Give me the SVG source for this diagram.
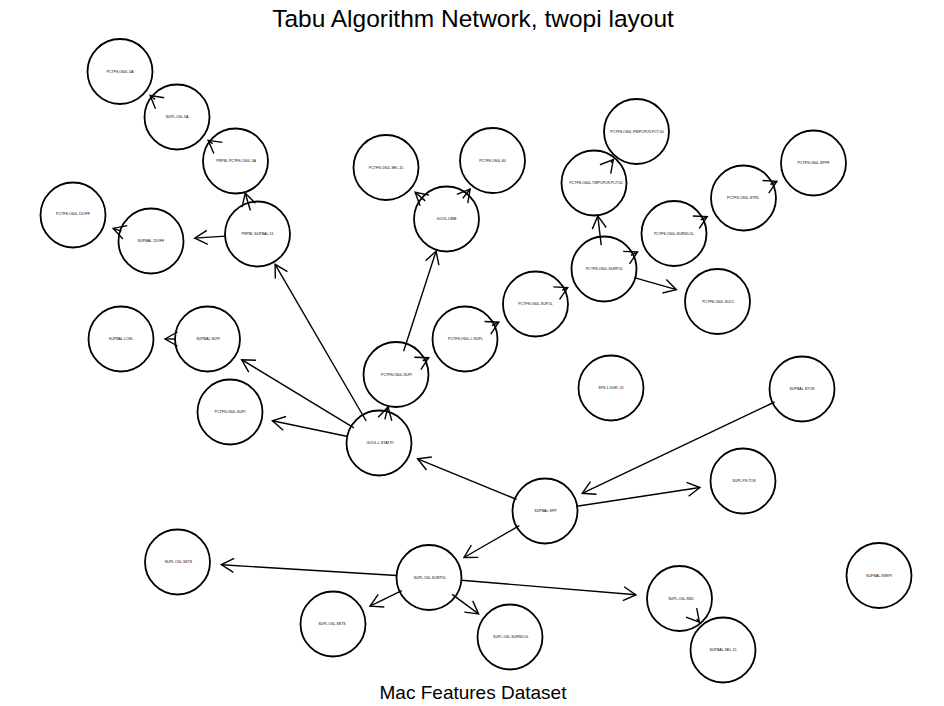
<svg xmlns="http://www.w3.org/2000/svg" width="944" height="706" viewBox="0 0 944 706">
<style>
.n circle{fill:none;stroke:#000;stroke-width:1.8}
.n text{font-family:"Liberation Sans",Arial,sans-serif;font-size:3.6px;fill:#000;text-anchor:middle;dominant-baseline:central}
.e line{stroke:#000;stroke-width:1.4;marker-end:url(#ah)}
.t{font-family:"Liberation Sans",Arial,sans-serif;fill:#000;text-anchor:middle}
</style>
<defs>
<marker id="ah" markerUnits="userSpaceOnUse" markerWidth="18" markerHeight="18" viewBox="0 0 18 18" refX="15" refY="9" orient="auto" overflow="visible">
<path d="M2.5,2 L15,9 L2.5,16" fill="none" stroke="#000" stroke-width="1.4"/>
</marker>
</defs>
<rect width="944" height="706" fill="#fff"/>
<text class="t" x="473" y="27" font-size="24.5">Tabu Algorithm Network, twopi layout</text>
<text class="t" x="473" y="699" font-size="19">Mac Features Dataset</text>
<g id="edges" class="e">
<line x1="155.0" y1="99.4" x2="150.1" y2="95.5"/>
<line x1="212.6" y1="143.8" x2="208.1" y2="140.4"/>
<line x1="250.4" y1="210.5" x2="245.2" y2="193.2"/>
<line x1="225.2" y1="236.1" x2="194.8" y2="238.1"/>
<line x1="121.4" y1="231.1" x2="113.2" y2="228.4"/>
<line x1="366.2" y1="421.0" x2="275.1" y2="264.3"/>
<line x1="353.9" y1="427.8" x2="241.7" y2="359.7"/>
<line x1="347.7" y1="436.5" x2="272.4" y2="420.8"/>
<line x1="384.9" y1="419.4" x2="388.0" y2="406.9"/>
<line x1="403.6" y1="351.2" x2="436.1" y2="251.1"/>
<line x1="425.2" y1="200.9" x2="415.1" y2="192.3"/>
<line x1="462.8" y1="198.2" x2="470.1" y2="189.0"/>
<line x1="422.7" y1="360.8" x2="428.7" y2="357.7"/>
<line x1="492.0" y1="325.6" x2="498.8" y2="322.2"/>
<line x1="562.2" y1="290.3" x2="567.7" y2="287.6"/>
<line x1="601.2" y1="245.1" x2="597.8" y2="215.9"/>
<line x1="610.9" y1="162.5" x2="613.3" y2="159.6"/>
<line x1="630.8" y1="255.4" x2="637.5" y2="252.0"/>
<line x1="700.7" y1="219.9" x2="707.2" y2="216.6"/>
<line x1="770.4" y1="184.5" x2="776.9" y2="181.3"/>
<line x1="634.3" y1="277.7" x2="676.4" y2="289.7"/>
<line x1="774.6" y1="402.0" x2="582.2" y2="493.3"/>
<line x1="576.8" y1="506.2" x2="699.9" y2="487.5"/>
<line x1="516.6" y1="499.4" x2="417.6" y2="458.8"/>
<line x1="519.3" y1="525.7" x2="464.0" y2="557.5"/>
<line x1="396.7" y1="575.5" x2="221.3" y2="564.7"/>
<line x1="401.8" y1="590.7" x2="370.0" y2="606.1"/>
<line x1="452.1" y1="594.4" x2="478.6" y2="613.9"/>
<line x1="461.2" y1="580.2" x2="635.9" y2="594.8"/>
<line x1="696.7" y1="618.9" x2="699.4" y2="622.1"/>
<line x1="175.0" y1="339.0" x2="165.0" y2="339.0"/>
</g>
<g id="nA" class="n"><circle cx="120" cy="71.5" r="32.5"/><text x="120" y="71.5">PCTFS.O60L.5A</text></g>
<g id="nB" class="n"><circle cx="177" cy="117" r="32.5"/><text x="177" y="117">SUPL.O6L.5A</text></g>
<g id="nC" class="n"><circle cx="235.5" cy="161" r="32.5"/><text x="236" y="161">PRPBL.PCTFS.O60L.5A</text></g>
<g id="nD" class="n"><circle cx="73" cy="215" r="32.5"/><text x="73" y="214">PCTFS.O60L.15OFF</text></g>
<g id="nE" class="n"><circle cx="151" cy="241" r="32.5"/><text x="151" y="241">SUPBAL.15OFF</text></g>
<g id="nF" class="n"><circle cx="257.5" cy="234" r="32.5"/><text x="257.5" y="234">PRPBL.SUPBAL.51</text></g>
<g id="nG" class="n"><circle cx="386" cy="167.5" r="32.5"/><text x="386" y="168">PCTFS.O60L.SEL.15</text></g>
<g id="nH" class="n"><circle cx="492.5" cy="160.5" r="32.5"/><text x="492.5" y="161">PCTFS.O60L.60</text></g>
<g id="nI" class="n"><circle cx="446.5" cy="219" r="32.5"/><text x="446.5" y="219">GOOL.LIMB</text></g>
<g id="nJ" class="n"><circle cx="636.5" cy="131.5" r="32.5"/><text x="637" y="131.5">PCTFS.O60L.PWPOPLR.PCT.50</text></g>
<g id="nK" class="n"><circle cx="594" cy="183" r="32.5"/><text x="596" y="183">PCTFS.O60L.TWPOPLR.PCT.50</text></g>
<g id="nL" class="n"><circle cx="813.5" cy="163" r="32.5"/><text x="813.5" y="163">PCTFS.O60L.SPPF</text></g>
<g id="nM" class="n"><circle cx="743.5" cy="198" r="32.5"/><text x="743" y="198">PCTFS.O60L.STR5</text></g>
<g id="nN" class="n"><circle cx="674" cy="233.5" r="32.5"/><text x="674" y="233.5">PCTFS.O60L.SURSD.5L</text></g>
<g id="nO" class="n"><circle cx="604" cy="269" r="32.5"/><text x="604.5" y="269">PCTFS.O60L.SURP.5L</text></g>
<g id="nP" class="n"><circle cx="535.5" cy="304" r="32.5"/><text x="535.5" y="304">PCTFS.O60L.SUP.5L</text></g>
<g id="nQ" class="n"><circle cx="717.5" cy="301.5" r="32.5"/><text x="718" y="302">PCTFS.O60L.SUI.5</text></g>
<g id="nR" class="n"><circle cx="121" cy="339" r="32.5"/><text x="121" y="339">SUPBAL.LOSL</text></g>
<g id="nS" class="n"><circle cx="207.5" cy="339" r="32.5"/><text x="208" y="339">SUPBAL.SUPI</text></g>
<g id="nT" class="n"><circle cx="230" cy="412" r="32.5"/><text x="230" y="412">PCTFS.O60L.SUPI</text></g>
<g id="nU" class="n"><circle cx="396" cy="374.5" r="32.5"/><text x="396.5" y="374.5">PCTFS.O60L.SUPI</text></g>
<g id="nV" class="n"><circle cx="465" cy="339" r="32.5"/><text x="465.5" y="339">PCTFS.O60L.L.SUPL</text></g>
<g id="nW" class="n"><circle cx="379" cy="443" r="32.5"/><text x="380" y="443">GOOL.L.STAT.PI</text></g>
<g id="nX" class="n"><circle cx="611" cy="388" r="32.5"/><text x="611" y="388">SPS.1.GGR..51</text></g>
<g id="nY" class="n"><circle cx="802" cy="389" r="32.5"/><text x="802" y="389">SUPBAL.STOS</text></g>
<g id="nZ" class="n"><circle cx="545" cy="511" r="32.5"/><text x="545.5" y="511">SUPBAL.SPP</text></g>
<g id="nAA" class="n"><circle cx="743" cy="481" r="32.5"/><text x="744" y="481">SUPL.PS.TOS</text></g>
<g id="nBB" class="n"><circle cx="177.5" cy="562" r="32.5"/><text x="178.5" y="562">SUPL.O6L.SSTS</text></g>
<g id="nCC" class="n"><circle cx="333" cy="624" r="32.5"/><text x="332" y="624">SUPL.O6L.SSTS</text></g>
<g id="nDD" class="n"><circle cx="429" cy="577.5" r="32.5"/><text x="430" y="578">SUPL.O6L.SURP.5L</text></g>
<g id="nEE" class="n"><circle cx="510" cy="637" r="32.5"/><text x="511" y="637">SUPL.O6L.SURSD.5L</text></g>
<g id="nFF" class="n"><circle cx="679.5" cy="598.5" r="32.5"/><text x="681" y="598.5">SUPL.O6L.SSD</text></g>
<g id="nGG" class="n"><circle cx="723" cy="650" r="32.5"/><text x="723" y="650">SUPBAL.SEL.15</text></g>
<g id="nHH" class="n"><circle cx="879" cy="575.5" r="32.5"/><text x="879" y="575.5">SUPBAL.SSSPI</text></g>
</svg>
